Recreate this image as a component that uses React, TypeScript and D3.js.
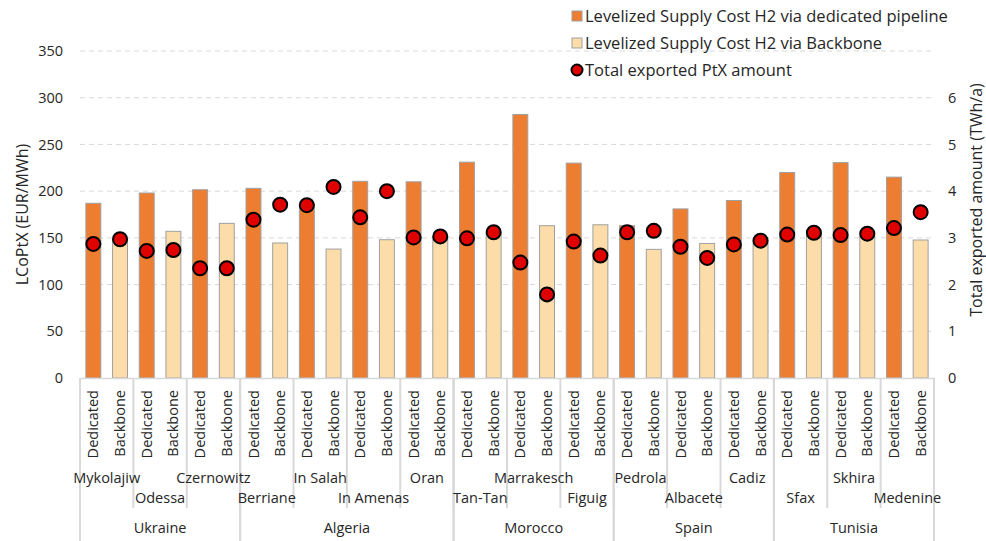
import React from "react";
import * as d3 from "d3";

const countries = ["Ukraine", "Algeria", "Morocco", "Spain", "Tunisia"];
const cities = ["Mykolajiw", "Odessa", "Czernowitz", "Berriane", "In Salah", "In Amenas", "Oran", "Tan-Tan", "Marrakesch", "Figuig", "Pedrola", "Albacete", "Cadiz", "Sfax", "Skhira", "Medenine"];
const cityCountry = ["Ukraine", "Ukraine", "Ukraine", "Algeria", "Algeria", "Algeria", "Algeria", "Morocco", "Morocco", "Morocco", "Spain", "Spain", "Spain", "Tunisia", "Tunisia", "Tunisia"];
const variants = ["Dedicated", "Backbone"];
const costDedicated = [187, 198, 201.5, 203, 186, 210.5, 210, 231, 282, 230, 163, 181, 190, 220, 230.5, 215];
const costBackbone = [148, 157, 165.5, 144.5, 138, 148, 151, 155, 163, 164, 137.7, 144, 147, 155, 155, 147.7];
const ptxDedicated = [2.87, 2.72, 2.35, 3.39, 3.70, 3.44, 3.01, 2.99, 2.47, 2.92, 3.12, 2.81, 2.86, 3.07, 3.06, 3.21];
const ptxBackbone = [2.97, 2.74, 2.35, 3.71, 4.09, 4.0, 3.03, 3.12, 1.79, 2.62, 3.15, 2.57, 2.94, 3.11, 3.09, 3.55];
const leftTicks = [0, 50, 100, 150, 200, 250, 300, 350];
const rightTicks = [0, 1, 2, 3, 4, 5, 6];
const legendLabels = ["Levelized Supply Cost H2 via dedicated pipeline", "Levelized Supply Cost H2 via Backbone", "Total exported PtX amount"];

const W = 986, H = 541;
const X0 = 80, X1 = 934, Y0 = 378, Y1 = 51;
const FONT = "'Open Sans', sans-serif";
const TXT = "#262626";
const DED = "#ED7D31";
const BB = "#FCDCA8";

export default function App() {
  const bars = cities.flatMap((c, i) => [
    { key: c + "-D", city: c, variant: variants[0], cost: costDedicated[i], ptx: ptxDedicated[i] },
    { key: c + "-B", city: c, variant: variants[1], cost: costBackbone[i], ptx: ptxBackbone[i] },
  ]);
  const x = d3.scaleBand<string>().domain(bars.map(b => b.key)).range([X0, X1]).paddingInner(0.44).paddingOuter(0.22);
  const xc = d3.scaleBand<string>().domain(cities).range([X0, X1]).padding(0);
  const yL = d3.scaleLinear().domain([0, 350]).range([Y0, Y1]);
  const yR = d3.scaleLinear().domain([0, 7]).range([Y0, Y1]);

  const countrySpans = countries.map(co => {
    const idx = cityCountry.map((c, i) => (c === co ? i : -1)).filter(i => i >= 0);
    const start = xc(cities[idx[0]])!;
    const end = xc(cities[idx[idx.length - 1]])! + xc.bandwidth();
    return { co, start, end };
  });

  return (
    <svg width={W} height={H} style={{ position: "absolute", left: 0, top: 0, background: "#fff" }} fontFamily={FONT}>
      {leftTicks.filter(t => t > 0).map(t => (
        <line key={t} x1={X0} x2={X1} y1={yL(t)} y2={yL(t)} stroke="#d9d9d9" strokeWidth={1} strokeDasharray="5,4" />
      ))}
      {leftTicks.map(t => (
        <text key={t} x={63} y={yL(t)} dy="0.35em" textAnchor="end" fontSize={14.5} fill={TXT}>{t}</text>
      ))}
      {rightTicks.map(t => (
        <text key={t} x={948} y={yR(t)} dy="0.35em" textAnchor="start" fontSize={14.5} fill={TXT}>{t}</text>
      ))}
      <text transform={`translate(28,${(Y0 + Y1) / 2}) rotate(-90)`} textAnchor="middle" fontSize={16} fill={TXT}>LCoPtX (EUR/MWh)</text>
      <text transform={`translate(982,200) rotate(-90)`} textAnchor="middle" fontSize={16} fill={TXT}>Total exported amount (TWh/a)</text>

      {bars.map(b => (
        <rect key={b.key} x={x(b.key)!} y={yL(b.cost)} width={x.bandwidth()} height={Y0 - yL(b.cost)}
          fill={b.variant === "Dedicated" ? DED : BB} stroke="#a0a0a0" strokeWidth={1} />
      ))}
      {bars.map(b => (
        <circle key={b.key + "p"} cx={x(b.key)! + x.bandwidth() / 2} cy={yR(b.ptx)} r={7} fill="#E00000" stroke="#000" strokeWidth={2} />
      ))}

      <line x1={X0} x2={X1} y1={Y0 + 0.5} y2={Y0 + 0.5} stroke="#d9d9d9" strokeWidth={1.5} />
      {cities.map(c => (
        <line key={c} x1={xc(c)!} x2={xc(c)!} y1={Y0} y2={508} stroke="#d9d9d9" strokeWidth={2} />
      ))}
      {countrySpans.map(s => (
        <g key={s.co}>
          <line x1={s.start} x2={s.start} y1={Y0} y2={H} stroke="#d9d9d9" strokeWidth={2} />
          <line x1={s.end} x2={s.end} y1={Y0} y2={H} stroke="#d9d9d9" strokeWidth={2} />
          <text x={(s.start + s.end) / 2} y={528} dy="0.35em" textAnchor="middle" fontSize={14.5} fill={TXT}>{s.co}</text>
        </g>
      ))}
      {bars.map(b => (
        <text key={b.key + "t"} transform={`translate(${x(b.key)! + x.bandwidth() / 2},390) rotate(-90)`} dy="0.35em"
          textAnchor="end" fontSize={14.5} fill={TXT}>{b.variant}</text>
      ))}
      {cities.map((c, i) => (
        <text key={c + "l"} x={xc(c)! + xc.bandwidth() / 2} y={i % 2 === 0 ? 478 : 498} dy="0.35em" textAnchor="middle" fontSize={14.5} fill={TXT}>{c}</text>
      ))}

      {legendLabels.map((l, i) => (
        <g key={l} transform={`translate(572,${16 + i * 27})`}>
          {i < 2 ? (
            <rect x={0} y={-5} width={10} height={10} fill={i === 0 ? DED : BB} stroke="#a0a0a0" strokeWidth={1} />
          ) : (
            <circle cx={5} cy={0} r={5.5} fill="#E00000" stroke="#000" strokeWidth={2} />
          )}
          <text x={13} y={0} dy="0.35em" fontSize={16.5} fill={TXT}>{l}</text>
        </g>
      ))}
    </svg>
  );
}
